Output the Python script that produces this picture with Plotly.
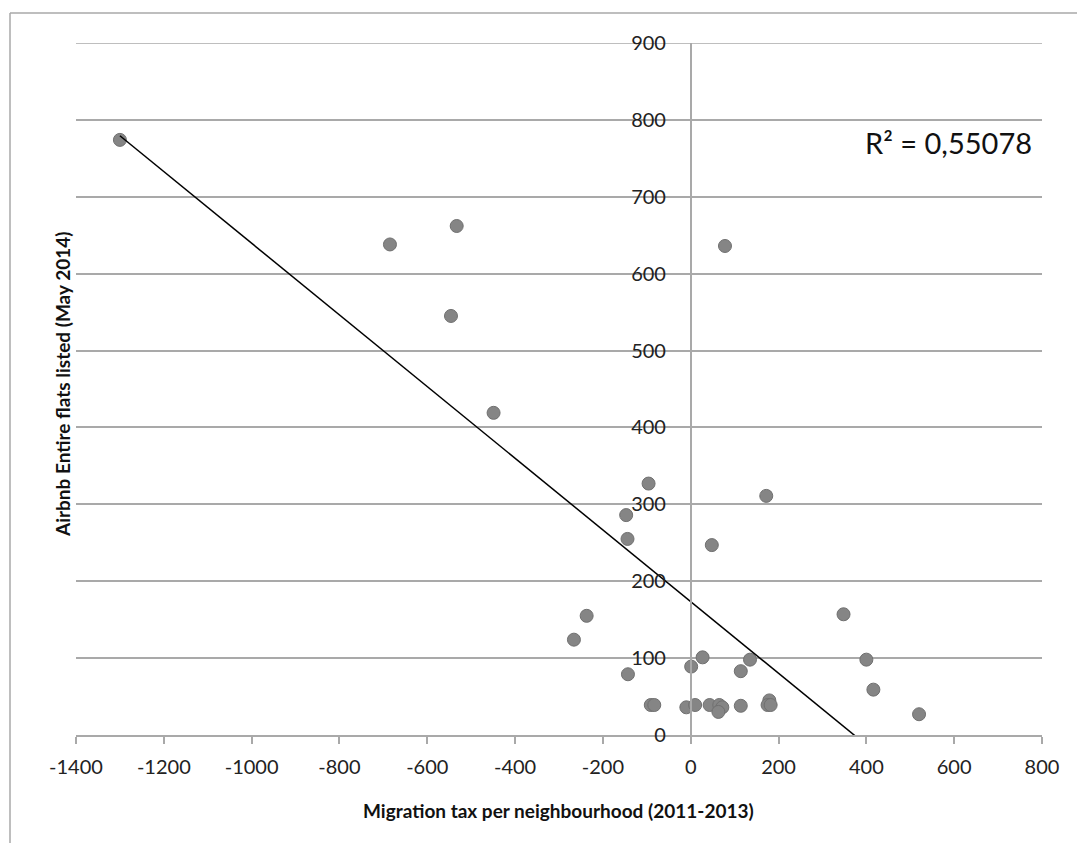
import numpy as np
import plotly.graph_objects as go

# Data
migration_tax = [-1300, -685, -533, -546, -449, -96, -147, -144, 48, 172, 78,
                 -237, -266, -143, -91, -83, -10, 10, 1, 27, 43, 65, 72, 63,
                 114, 114, 135, 179, 175, 182, 348, 400, 416, 520]
airbnb_flats = [774, 638, 662, 545, 419, 327, 286, 255, 247, 311, 636,
                155, 124, 79, 39, 39, 36, 39, 89, 101, 39, 39, 36, 30,
                38, 83, 98, 45, 39, 39, 157, 98, 59, 27]
x_ticks = [-1400, -1200, -1000, -800, -600, -400, -200, 0, 200, 400, 600, 800]
y_ticks = [0, 100, 200, 300, 400, 500, 600, 700, 800, 900]
r2_label = "R² = 0,55078"
x_title = "Migration tax per neighbourhood (2011-2013)"
y_title = "Airbnb Entire flats listed (May 2014)"

# Linear trendline (least squares) over the data range
slope, intercept = np.polyfit(migration_tax, airbnb_flats, 1)
trend_x = [min(migration_tax), max(migration_tax)]
trend_y = [slope * v + intercept for v in trend_x]

GRID = "#a9a9a9"
FONT = "Lato"

fig = go.Figure()
fig.add_trace(go.Scatter(
    x=migration_tax, y=airbnb_flats, mode="markers",
    marker=dict(size=13, color="#858585", line=dict(color="#707070", width=1)),
    showlegend=False, hoverinfo="x+y",
))
fig.add_trace(go.Scatter(
    x=trend_x, y=trend_y, mode="lines",
    line=dict(color="#000000", width=1.5),
    showlegend=False, hoverinfo="skip",
))

fig.update_layout(
    width=1077, height=843,
    margin=dict(l=76, r=35, t=43, b=108),
    paper_bgcolor="white", plot_bgcolor="white",
    font=dict(family=FONT, color="#222222"),
    xaxis=dict(
        range=[-1400, 800], tickvals=x_ticks, ticktext=[str(v) for v in x_ticks],
        showgrid=False, zeroline=False,
        showline=True, linecolor=GRID, linewidth=1.5,
        ticks="outside", ticklen=7, tickwidth=1.5, tickcolor=GRID,
        tickfont=dict(size=20, family=FONT, color="#222222"),
        ticklabelstandoff=6,
    ),
    yaxis=dict(
        range=[0, 900], tickvals=y_ticks, ticktext=[str(v) for v in y_ticks],
        showgrid=True, gridcolor=GRID, gridwidth=1.5,
        zeroline=False, showline=True, linecolor=GRID, linewidth=1.5,
        anchor="free", position=1400 / 2200, side="left",
        ticks="", tickfont=dict(size=20, family=FONT, color="#222222"),
        ticklabelstandoff=20,
    ),
    annotations=[
        dict(text=r2_label, xref="paper", yref="paper",
             x=(1034 - 76) / 966, y=(735 - 142) / 692,
             xanchor="right", yanchor="middle", showarrow=False,
             font=dict(size=29, family=FONT, color="#111111")),
        dict(text="<b>" + x_title + "</b>", xref="paper", yref="paper",
             x=(558 - 76) / 966, y=(735 - 810) / 692,
             xanchor="center", yanchor="middle", showarrow=False,
             font=dict(size=19, family=FONT, color="#111111")),
        dict(text="<b>" + y_title + "</b>", xref="paper", yref="paper",
             x=(63 - 76) / 966, y=(735 - 385) / 692, textangle=-90,
             xanchor="center", yanchor="middle", showarrow=False,
             font=dict(size=19, family=FONT, color="#111111")),
    ],
    shapes=[
        # top gridline (at the edge of the y range)
        dict(type="line", xref="paper", yref="y",
             x0=0, x1=1, y0=y_ticks[-1], y1=y_ticks[-1],
             line=dict(color=GRID, width=1.5), layer="below"),
        # outer frame (partially visible)
        dict(type="line", xref="paper", yref="paper",
             x0=(10 - 76) / 966, x1=(1077 - 76) / 966,
             y0=(735 - 13) / 692, y1=(735 - 13) / 692,
             line=dict(color=GRID, width=1.5)),
        dict(type="line", xref="paper", yref="paper",
             x0=(10 - 76) / 966, x1=(10 - 76) / 966,
             y0=(735 - 13) / 692, y1=(735 - 843) / 692,
             line=dict(color=GRID, width=1.5)),
    ],
)

fig.write_html("out.html")
